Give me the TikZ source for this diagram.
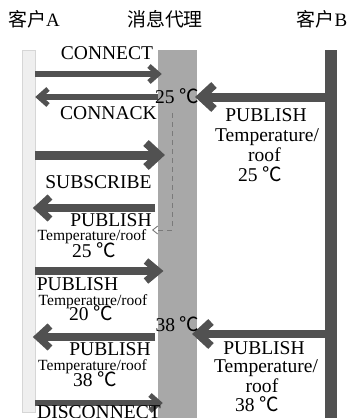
\documentclass[tikz,border=0pt]{standalone}
\usepackage{fontspec}
\setmainfont{Liberation Serif}
\newfontfamily\cjk{Noto Sans CJK SC}
\usetikzlibrary{calc,arrows.meta}
\definecolor{dk}{HTML}{515151}
\definecolor{brk}{HTML}{A8A8A8}
\definecolor{afill}{HTML}{EFEFEF}
\definecolor{aline}{HTML}{D6D6D6}
\definecolor{dashc}{HTML}{7A7A7A}
\newcommand\cels{{\cjk ℃}}
\newcommand\chev[5]{\draw[headst, line width=#5] ($(#1)+({-(#2)*(#3)},{-(#4)})$) -- (#1) -- ($(#1)+({-(#2)*(#3)},{#4})$);}
\begin{document}
\begin{tikzpicture}[x=1bp,y=-1bp,
  big/.style={font=\fontsize{19.6}{20}\selectfont, inner sep=0, anchor=base},
  small/.style={font=\fontsize{15.6}{16}\selectfont, inner sep=0, anchor=base},
  hdr/.style={font=\fontsize{19}{20}\selectfont, inner sep=0, anchor=base},
  msg/.style={draw=dk, line cap=butt},
  headst/.style={draw=dk, line cap=butt, line join=miter, miter limit=10},
  dashline/.style={draw=dashc, line width=0.9bp, dash pattern=on 5bp off 4bp}]
\useasboundingbox (0,0) rectangle (350,418);
% lifelines
\node[draw=aline, fill=afill, line width=0.8bp, minimum width=13bp, minimum height=362bp, inner sep=0] (A) at (28.5,231) {};
\node[fill=brk, minimum width=39bp, minimum height=375bp, inner sep=0] (Br) at (177.5,237.5) {};
\node[fill=dk, minimum width=12bp, minimum height=375bp, inner sep=0] (B) at (331,237.5) {};
% headers
\node[hdr] (hA) at (34,26) {{\cjk 客户}A};
\node[hdr] (hBr) at (165,26) {{\cjk 消息代理}};
\node[hdr] (hB) at (322,26) {{\cjk 客户}B};
% coordinates
\coordinate (c1s) at (35,74);   \coordinate (c1e) at (158,74);
\coordinate (c2s) at (158,97);  \coordinate (c2e) at (39,97);
\coordinate (b1s) at (325,97);  \coordinate (b1e) at (201,97);
\coordinate (c3s) at (35,155);  \coordinate (c3e) at (159,155);
\coordinate (c4s) at (155,208); \coordinate (c4e) at (38,208);
\coordinate (c5s) at (35,271);  \coordinate (c5e) at (158,271);
\coordinate (c6s) at (155,337); \coordinate (c6e) at (38,337);
\coordinate (b2s) at (325,334); \coordinate (b2e) at (198,334);
\coordinate (c7s) at (35,403);  \coordinate (c7e) at (159,403);
\coordinate (d1) at (172,113);  \coordinate (d2) at (152,230);
% connectors
\draw[msg, line width=6bp] (c1s) -- (c1e); \chev{c1e}{1}{9}{8}{5bp}
\draw[msg, line width=6bp] (c2s) -- (c2e); \chev{c2e}{-1}{9}{8}{5bp}
\draw[msg, line width=9bp] (b1s) -- (b1e); \chev{b1e}{-1}{13}{12}{8bp}
\draw[msg, line width=9bp] (c3s) -- (c3e); \chev{c3e}{1}{13}{12}{8bp}
\draw[msg, line width=8bp] (c4s) -- (c4e); \chev{c4e}{-1}{12}{11}{7bp}
\draw[msg, line width=8bp] (c5s) -- (c5e); \chev{c5e}{1}{12}{10}{7bp}
\draw[msg, line width=8bp] (c6s) -- (c6e); \chev{c6e}{-1}{12}{11}{7bp}
\draw[msg, line width=8bp] (b2s) -- (b2e); \chev{b2e}{-1}{13}{12}{8bp}
\draw[msg, line width=6bp] (c7s) -- (c7e); \chev{c7e}{1}{9}{8}{5bp}
\draw[dashline, -{Straight Barb[length=5bp,width=8bp]}] (d1) |- (d2);
% labels
\node[big] (l1) at (107,59.5) {CONNECT};
\node[big] (l2) at (108.5,119.5) {CONNACK};
\node[big] (t1) at (177,103.5) {25 \cels};
\node[big] (lb1a) at (266,121.5) {PUBLISH};
\node[big] (lb1b) at (267,141.5) {Temperature/};
\node[big] (lb1c) at (264.5,161) {roof};
\node[big] (lb1d) at (260,181) {25 \cels};
\node[big] (l3) at (98.5,188.5) {SUBSCRIBE};
\node[big] (l4a) at (111,226.5) {PUBLISH};
\node[small] (l4b) at (92,240.5) {Temperature/roof};
\node[big] (l4c) at (94,257.5) {25 \cels};
\node[big] (l5a) at (77.5,290.5) {PUBLISH};
\node[small] (l5b) at (93,305.5) {Temperature/roof};
\node[big] (l5c) at (91,320.5) {20 \cels};
\node[big] (t2) at (177.5,331.5) {38 \cels};
\node[big] (l6a) at (110,355) {PUBLISH};
\node[small] (l6b) at (92.5,370) {Temperature/roof};
\node[big] (l6c) at (95,386) {38 \cels};
\node[big] (lb2a) at (264,354) {PUBLISH};
\node[big] (lb2b) at (266,372.5) {Temperature/};
\node[big] (lb2c) at (262,392.5) {roof};
\node[big] (lb2d) at (257,411.5) {38 \cels};
\node[big] (l7) at (99,418.5) {DISCONNECT};
\end{tikzpicture}
\end{document}
